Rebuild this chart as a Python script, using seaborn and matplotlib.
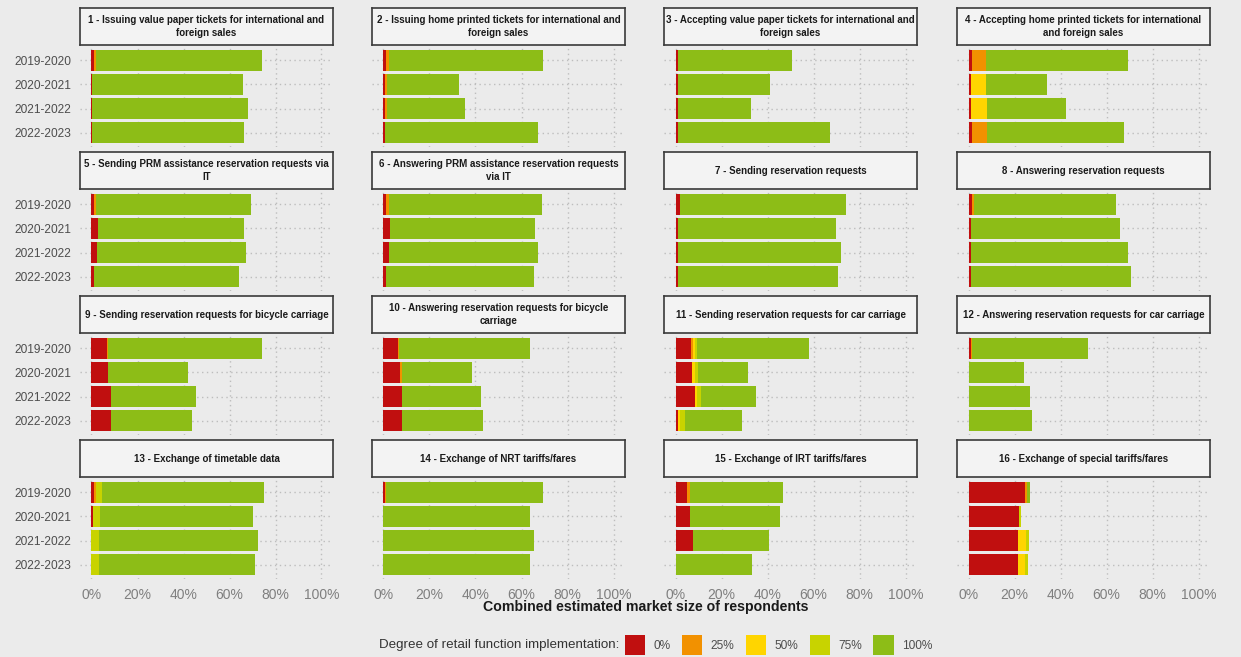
import matplotlib

matplotlib.use("Agg")
import matplotlib.pyplot as plt
import numpy as np
import pandas as pd
import seaborn as sns
from matplotlib.patches import Patch

sns.set_theme(style="white")
plt.rcParams["font.family"] = ["Liberation Sans", "DejaVu Sans"]

# Данные: доля рынка (%) по степени внедрения, 16 функций x 4 года
years = ["2019-2020", "2020-2021", "2021-2022", "2022-2023"]
levels = ["0%", "25%", "50%", "75%", "100%"]
level_colors = ["#c00f0f", "#f29100", "#ffd500", "#c8d300", "#8dbd17"]

titles = [
    "1 - Issuing value paper tickets for international and\nforeign sales",
    "2 - Issuing home printed tickets for international and\nforeign sales",
    "3 - Accepting value paper tickets for international and\nforeign sales",
    "4 - Accepting home printed tickets for international\nand foreign sales",
    "5 - Sending PRM assistance reservation requests via\nIT",
    "6 - Answering PRM assistance reservation requests\nvia IT",
    "7 - Sending reservation requests",
    "8 - Answering reservation requests",
    "9 - Sending reservation requests for bicycle carriage",
    "10 - Answering reservation requests for bicycle\ncarriage",
    "11 - Sending reservation requests for car carriage",
    "12 - Answering reservation requests for car carriage",
    "13 - Exchange of timetable data",
    "14 - Exchange of NRT tariffs/fares",
    "15 - Exchange of IRT tariffs/fares",
    "16 - Exchange of special tariffs/fares",
]

share_0 = [
    [1.2, 0.3, 0.3, 0.3], [1.2, 0.8, 0.8, 0.8], [1.3, 1.2, 1.2, 1.2], [1.6, 1.1, 1.1, 1.6],
    [1.3, 3.0, 2.6, 0.9], [1.1, 3.0, 2.5, 0.9], [1.8, 1.1, 1.1, 1.1], [1.6, 1.0, 1.0, 1.0],
    [6.6, 7.2, 8.3, 8.3], [6.4, 7.2, 8.2, 8.0], [6.7, 7.3, 8.4, 1.1], [1.3, 0.0, 0.0, 0.0],
    [1.2, 0.7, 0.0, 0.0], [0.5, 0.0, 0.0, 0.0], [5.0, 6.3, 7.5, 0.0], [24.5, 21.9, 21.4, 21.4],
]
share_25 = [
    [0.8, 0, 0, 0], [1.4, 0.6, 0.6, 0], [0, 0, 0, 0], [6.0, 0, 0, 6.5],
    [0.7, 0, 0, 0], [1.3, 0, 0, 0], [0.3, 0, 0, 0], [0.6, 0, 0, 0],
    [0.4, 0, 0, 0], [0.4, 0.7, 0, 0], [0.8, 0, 0, 0], [0.3, 0, 0, 0],
    [0.6, 0, 0, 0], [0.7, 0, 0, 0], [1.3, 0, 0, 0], [1.0, 0, 0, 0],
]
share_50 = [
    [0, 0, 0, 0], [0, 0, 0, 0], [0, 0, 0, 0], [0, 6.5, 7.0, 0],
    [0, 0, 0, 0], [0, 0, 0, 0], [0, 0, 0, 0], [0, 0, 0, 0],
    [0, 0, 0, 0], [0, 0, 0, 0], [1.0, 1.3, 1.0, 1.0], [0, 0, 0, 0],
    [0, 0, 0, 0], [0, 0, 0, 0], [0, 0, 0, 0], [0, 0, 3.4, 3.2],
]
share_75 = [
    [0, 0, 0, 0], [0, 0, 0, 0], [0, 0, 0, 0], [0, 0, 0, 0],
    [0, 0, 0, 0], [0, 0, 0, 0], [0, 0, 0, 0], [0, 0, 0, 0],
    [0, 0, 0, 0], [0, 0, 0, 0], [1.0, 1.3, 1.9, 1.9], [0, 0, 0, 0],
    [2.6, 3.0, 3.4, 3.4], [0, 0, 0, 0], [0, 0, 0, 0], [0, 1.1, 1.3, 1.4],
]
share_100 = [
    [72.1, 65.6, 67.9, 66.2], [66.6, 31.6, 34.0, 66.3], [49.3, 40.0, 31.5, 66.0], [61.6, 26.4, 34.3, 59.4],
    [67.4, 63.3, 64.4, 63.1], [66.6, 63.0, 64.5, 64.4], [72.1, 68.6, 71.0, 69.4], [61.8, 64.8, 68.4, 69.5],
    [67.0, 34.6, 37.2, 35.2], [57.0, 30.4, 34.4, 35.3], [48.5, 21.8, 23.9, 24.7], [50.4, 24.2, 26.7, 27.5],
    [70.5, 66.5, 69.0, 67.6], [68.1, 63.5, 65.3, 63.5], [40.5, 39.3, 33.1, 33.3], [1.3, 0.0, 0.0, 0.0],
]

# Длинная таблица + накопленные суммы для стека
rows = []
for k in range(16):
    for j, yr in enumerate(years):
        vals = [share_0[k][j], share_25[k][j], share_50[k][j], share_75[k][j], share_100[k][j]]
        for lv, v in zip(levels, vals):
            rows.append({"panel": k, "year": yr, "level": lv, "value": v})
df = pd.DataFrame(rows)
df["level"] = pd.Categorical(df["level"], categories=levels, ordered=True)
df = df.sort_values(["panel", "year", "level"])
df["cum"] = df.groupby(["panel", "year"], observed=True)["value"].cumsum()

BG = "#ebebeb"
W, H = 1241, 657
fig = plt.figure(figsize=(W / 100, H / 100), dpi=100, facecolor=BG)

col_left = [80, 372, 664, 957]
row_top = [46, 190, 334, 478]
pw, ph = 253, 101
strip_h = 37

for k in range(16):
    r, c = divmod(k, 4)
    x0, y0 = col_left[c], row_top[r]
    ax = fig.add_axes([x0 / W, 1 - (y0 + ph) / H, pw / W, ph / H])
    ax.set_facecolor(BG)
    sub = df[df["panel"] == k]
    # рисуем от 100% к 0%, чтобы меньшие суммы лежали сверху
    for lv, col in list(zip(levels, level_colors))[::-1]:
        part = sub[sub["level"] == lv]
        sns.barplot(
            data=part, x="cum", y="year", order=years, orient="h",
            color=col, saturation=1, width=0.9, linewidth=0, ax=ax,
        )
    ax.set_xlim(-5, 105)
    ax.set_ylim(3.6, -0.6)
    ax.set_xticks(np.arange(0, 101, 20))
    ax.set_axisbelow(True)
    ax.grid(True, color="#bdbdbd", linestyle=(0, (1, 2.5)), linewidth=1)
    for s in ax.spines.values():
        s.set_visible(False)
    ax.set_xlabel("")
    ax.set_ylabel("")
    ax.tick_params(axis="both", length=3, color="#b0b0b0", width=0.8)
    if c == 0:
        ax.set_yticks(range(4))
        ax.set_yticklabels(years, fontsize=8.6, color="#4d4d4d")
    else:
        ax.set_yticklabels([])
    if r == 3:
        ax.set_xticklabels([f"{v}%" for v in range(0, 101, 20)], fontsize=10, color="#7f7f7f")
    else:
        ax.set_xticklabels([])

    # полоса с заголовком панели
    sax = fig.add_axes([x0 / W, 1 - (y0 - 1) / H, pw / W, strip_h / H])
    sax.set_facecolor("#f3f3f3")
    sax.set_xticks([])
    sax.set_yticks([])
    for s in sax.spines.values():
        s.set_color("#3a3a3a")
        s.set_linewidth(1.2)
    sax.text(
        0.5, 0.5, titles[k], ha="center", va="center", fontsize=7.0,
        fontweight="bold", color="#1a1a1a", linespacing=1.3,
        family=["Liberation Sans Narrow", "Liberation Sans", "DejaVu Sans"],
    )

fig.text(646 / W, 1 - 607 / H, "Combined estimated market size of respondents",
         ha="center", va="center", fontsize=10.2, fontweight="bold", color="#1a1a1a")

fig.text(619 / W, 1 - 645 / H, "Degree of retail function implementation:",
         ha="right", va="center", fontsize=9.6, color="#333333")
handles = [Patch(facecolor=cl, edgecolor="none") for cl in level_colors]
leg = fig.legend(
    handles, levels, loc="center left", bbox_to_anchor=(625 / W, 1 - 645 / H),
    ncol=5, frameon=False, fontsize=8.6, handlelength=1.7, handleheight=2.1,
    handletextpad=0.7, columnspacing=0.95, borderpad=0, borderaxespad=0,
)
for t in leg.get_texts():
    t.set_color("#4d4d4d")

fig.savefig("out.png", dpi=100, facecolor=BG)
